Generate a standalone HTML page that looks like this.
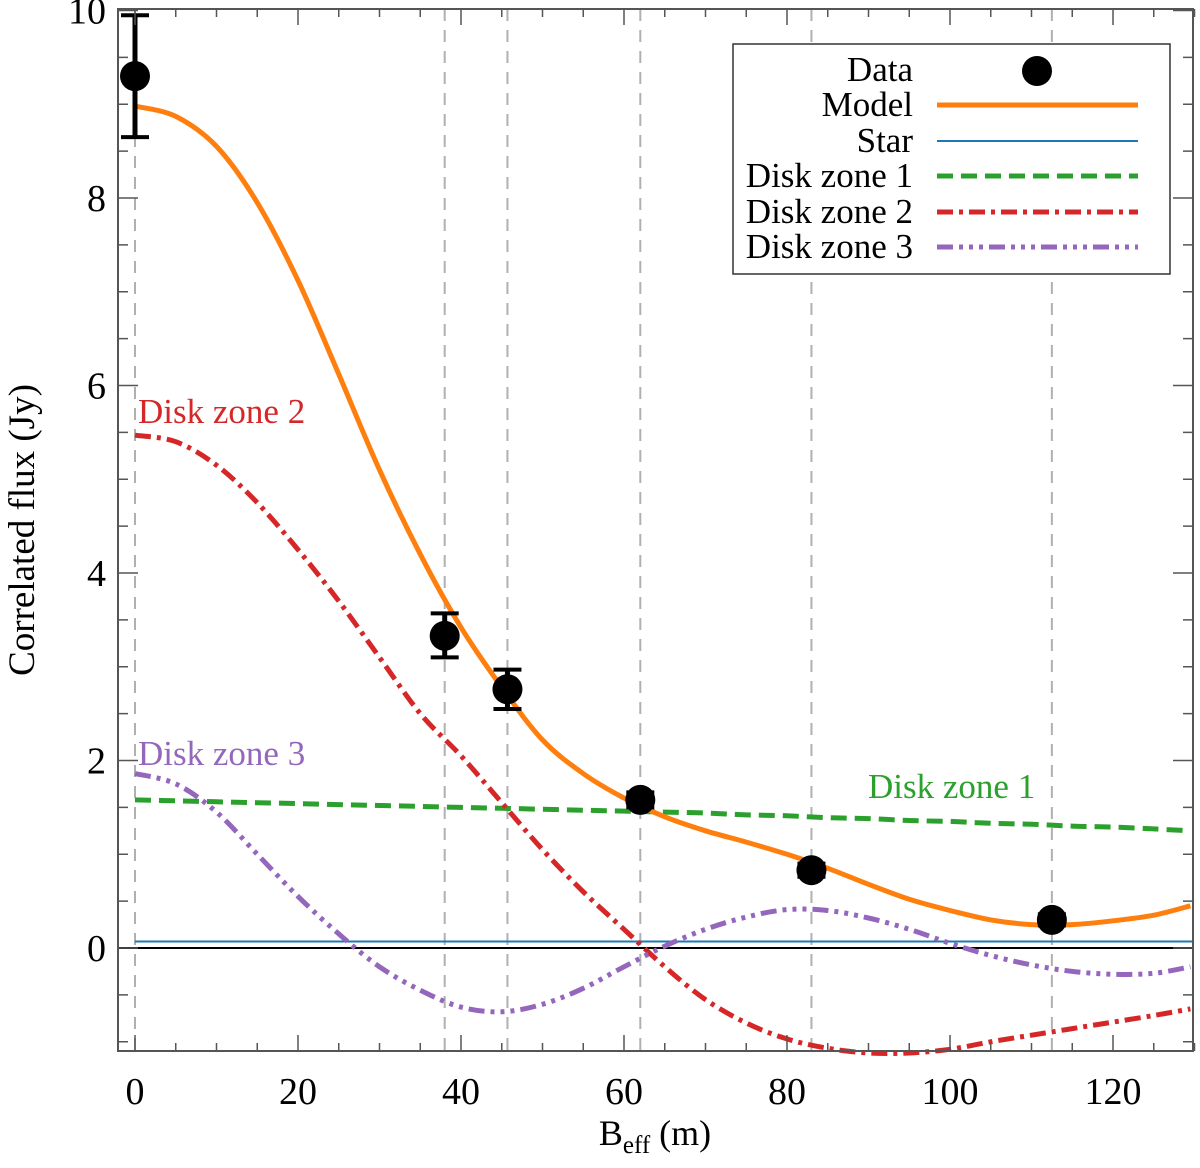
<!DOCTYPE html>
<html><head><meta charset="utf-8"><style>
body{margin:0;background:#fff}
svg text{font-family:"Liberation Serif",serif}
</style></head><body>
<svg id="chart" width="1200" height="1163" xmlns="http://www.w3.org/2000/svg">
<g id="grid"></g><g id="series"></g><g id="axes"></g>
</svg>
<script>
const dataX=[0,38,45.7,62,83,112.5];
const dataY=[9.3,3.33,2.76,1.58,0.83,0.3];
const errLo=[8.65,3.1,2.55,1.5,0.76,0.24];
const errHi=[9.95,3.57,2.97,1.66,0.9,0.36];
const curveX=[0,5,10,15,20,25,30,35,40,45,50,55,60,65,70,75,80,85,90,95,100,105,110,115,120,125,129.5];
const modelY=[8.98,8.87,8.55,7.95,7.12,6.12,5.1,4.2,3.42,2.78,2.22,1.86,1.6,1.4,1.25,1.13,1.0,0.85,0.68,0.52,0.4,0.3,0.25,0.25,0.29,0.35,0.45];
const zone1Y=[1.58,1.57,1.56,1.55,1.54,1.53,1.52,1.51,1.5,1.49,1.48,1.47,1.46,1.45,1.44,1.42,1.41,1.39,1.38,1.36,1.35,1.33,1.32,1.3,1.29,1.27,1.25];
const zone2Y=[5.47,5.4,5.15,4.75,4.25,3.7,3.1,2.5,2.05,1.55,1.05,0.6,0.2,-0.2,-0.55,-0.8,-0.97,-1.07,-1.12,-1.12,-1.08,-1.0,-0.93,-0.86,-0.79,-0.72,-0.65];
const zone3Y=[1.86,1.75,1.45,1.0,0.55,0.15,-0.2,-0.45,-0.63,-0.68,-0.6,-0.43,-0.2,0.02,0.2,0.33,0.41,0.4,0.32,0.2,0.05,-0.08,-0.18,-0.25,-0.28,-0.27,-0.2];
const starY=0.07;
const xTicks=[0,20,40,60,80,100,120];
const yTicks=[0,2,4,6,8,10];
const L=118,R=1193,T=9,B=1051;
const sx=v=>135+v*8.15, sy=v=>948-v*93.75;
const NS="http://www.w3.org/2000/svg";
function mk(tag,attrs,parent,text){const e=document.createElementNS(NS,tag);for(const k in attrs)e.setAttribute(k,attrs[k]);if(text!==undefined)e.textContent=text;(typeof parent==='string'?document.getElementById(parent):parent).appendChild(e);return e;}
dataX.forEach(x=>{const e=mk('line',{x1:sx(x),x2:sx(x),y1:T,y2:B,stroke:'#b0b0b0','stroke-width':2,'stroke-dasharray':'12,9'},'grid');

});
let z=mk('line',{x1:L,x2:R,y1:sy(0),y2:sy(0),stroke:'#000','stroke-width':2},'grid');


function smooth(ys){const p=curveX.map((x,i)=>[sx(x),sy(ys[i])]);let d='M'+p[0][0].toFixed(1)+','+p[0][1].toFixed(1);
for(let i=0;i<p.length-1;i++){const p0=p[Math.max(0,i-1)],p1=p[i],p2=p[i+1],p3=p[Math.min(p.length-1,i+2)];
const c1=[p1[0]+(p2[0]-p0[0])/6,p1[1]+(p2[1]-p0[1])/6],c2=[p2[0]-(p3[0]-p1[0])/6,p2[1]-(p3[1]-p1[1])/6];
d+=' C'+c1.map(v=>v.toFixed(1)).join(',')+' '+c2.map(v=>v.toFixed(1)).join(',')+' '+p2.map(v=>v.toFixed(1)).join(',');}
return d;}
function path(ys,attrs,name){
const e=mk('path',Object.assign({d:smooth(ys),fill:'none'},attrs),'series');

}
let st=mk('line',{x1:sx(0),x2:R,y1:sy(starY),y2:sy(starY),stroke:'#1f77b4','stroke-width':2},'series');


path(zone1Y,{stroke:'#2ca02c','stroke-width':5,'stroke-dasharray':'16,8'},'disk-zone-1-line');
path(zone2Y,{stroke:'#d62728','stroke-width':5,'stroke-dasharray':'16,6,4,6'},'disk-zone-2-line');
path(zone3Y,{stroke:'#9467bd','stroke-width':5,'stroke-dasharray':'16,6,4,6,4,6,4,6'},'disk-zone-3-line');
path(modelY,{stroke:'#ff7f0e','stroke-width':5},'model-line');
dataX.forEach((x,i)=>{const g=mk('g',{},'series');


mk('line',{x1:sx(x),x2:sx(x),y1:sy(errLo[i]),y2:sy(errHi[i]),stroke:'#000','stroke-width':5},g);
mk('line',{x1:sx(x)-14,x2:sx(x)+14,y1:sy(errLo[i]),y2:sy(errLo[i]),stroke:'#000','stroke-width':4},g);
mk('line',{x1:sx(x)-14,x2:sx(x)+14,y1:sy(errHi[i]),y2:sy(errHi[i]),stroke:'#000','stroke-width':4},g);
mk('circle',{cx:sx(x),cy:sy(dataY[i]),r:15,fill:'#000'},g);});
let fr=mk('rect',{x:L,y:T,width:R-L,height:B-T,fill:'none',stroke:'#555','stroke-width':2},'axes');


for(let v=0;v<=130;v+=5){const maj=v%20===0,len=maj?16:8;
mk('line',{x1:sx(v),x2:sx(v),y1:B,y2:B-len,stroke:'#555','stroke-width':1.5},'axes');
mk('line',{x1:sx(v),x2:sx(v),y1:T,y2:T+len,stroke:'#555','stroke-width':1.5},'axes');}
for(let v=-1;v<=10;v+=0.5){const maj=Math.abs(v%2)<1e-9,len=maj?20:10;
mk('line',{x1:L,x2:L+len,y1:sy(v),y2:sy(v),stroke:'#555','stroke-width':1.5},'axes');
mk('line',{x1:R,x2:R-len,y1:sy(v),y2:sy(v),stroke:'#555','stroke-width':1.5},'axes');}
xTicks.forEach(v=>{const t=mk('text',{x:sx(v),y:1104,'font-size':38,'text-anchor':'middle'},'axes',String(v));

});
yTicks.forEach(v=>{const t=mk('text',{x:106,y:sy(v)+13,'font-size':38,'text-anchor':'end'},'axes',String(v));

});
</script>
<svg style="position:absolute;left:0;top:0" width="1200" height="1163" xmlns="http://www.w3.org/2000/svg">
<text transform="translate(34,530) rotate(-90)" font-size="37" text-anchor="middle" font-family="Liberation Serif,serif">Correlated flux (Jy)</text>
<text x="655" y="1145" font-size="36" text-anchor="middle" font-family="Liberation Serif,serif">B<tspan font-size="25" dy="8">eff</tspan><tspan dy="-8"> (m)</tspan></text>
<text x="138" y="423" font-size="35" fill="#d62728" font-family="Liberation Serif,serif">Disk zone 2</text>
<text x="138" y="765" font-size="35" fill="#9467bd" font-family="Liberation Serif,serif">Disk zone 3</text>
<text x="868" y="798" font-size="35" fill="#2ca02c" font-family="Liberation Serif,serif">Disk zone 1</text>
<g font-family="Liberation Serif,serif" font-size="35">
<rect x="733" y="44" width="437" height="230" fill="#fff" stroke="#333" stroke-width="1.5"/>
<text x="913" y="81" text-anchor="end">Data</text><circle cx="1037" cy="71" r="15" fill="#000"/>
<text x="913" y="116" text-anchor="end">Model</text><line x1="937" x2="1138" y1="105" y2="105" stroke="#ff7f0e" stroke-width="5"/>
<text x="913" y="152" text-anchor="end">Star</text><line x1="937" x2="1138" y1="141" y2="141" stroke="#1f77b4" stroke-width="2"/>
<text x="913" y="187" text-anchor="end">Disk zone 1</text><line x1="937" x2="1138" y1="176" y2="176" stroke="#2ca02c" stroke-width="5" stroke-dasharray="16,8"/>
<text x="913" y="223" text-anchor="end">Disk zone 2</text><line x1="937" x2="1138" y1="212" y2="212" stroke="#d62728" stroke-width="5" stroke-dasharray="16,6,4,6"/>
<text x="913" y="258" text-anchor="end">Disk zone 3</text><line x1="937" x2="1138" y1="247" y2="247" stroke="#9467bd" stroke-width="5" stroke-dasharray="16,6,4,6,4,6,4,6"/>
</g>
</svg>
</body></html>
